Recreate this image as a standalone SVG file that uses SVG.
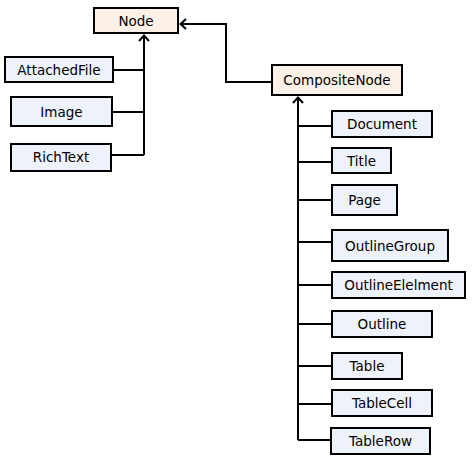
<svg xmlns="http://www.w3.org/2000/svg" width="472" height="466" viewBox="0 0 472 466">
<style>
.b{fill:#EEF2FA;stroke:#000;stroke-width:2}
.p{fill:#FDF1E7;stroke:#000;stroke-width:2}
text{font-family:"DejaVu Sans",sans-serif;font-size:13.5px;fill:#000;text-anchor:middle}
.c{fill:none;stroke:#000;stroke-width:2}
</style>
<defs>
<marker id="ar" markerWidth="12" markerHeight="12" refX="1" refY="6" orient="auto" markerUnits="userSpaceOnUse">
<path d="M7,1 L1.5,6 L7,11" fill="none" stroke="#000" stroke-width="2"/>
</marker>
</defs>
<g id="connectors">
<path class="c" d="M144,35 V155"/>
<path class="c" d="M144,35 V40" marker-start="url(#ar)"/>
<path class="c" d="M113,70 H144 M112,112 H144 M111,155 H144"/>
<path class="c" d="M180,24 H226 V82 H272" marker-start="url(#ar)"/>
<path class="c" d="M298,97 V440" marker-start="url(#ar)"/>
<path class="c" d="M298,126 H332 M298,162 H332 M298,200 H332 M298,242 H332 M298,285 H332 M298,324 H332 M298,366 H332 M298,404 H332 M298,440 H331"/>
</g>
<g id="node-Node"><rect class="p" x="94" y="8" width="84" height="25"/><text x="136" y="25.5">Node</text></g>
<g id="node-AttachedFile"><rect class="b" x="5" y="57" width="108" height="25"/><text x="59" y="74.5">AttachedFile</text></g>
<g id="node-Image"><rect class="b" x="11" y="97" width="101" height="29"/><text x="61.5" y="116.5">Image</text></g>
<g id="node-RichText"><rect class="b" x="11" y="144" width="100" height="27"/><text x="61" y="162">RichText</text></g>
<g id="node-CompositeNode"><rect class="p" x="272" y="65" width="130" height="30"/><text x="337" y="85">CompositeNode</text></g>
<g id="node-Document"><rect class="b" x="332" y="111" width="100" height="26"/><text x="382" y="129">Document</text></g>
<g id="node-Title"><rect class="b" x="332" y="148" width="59" height="25"/><text x="361.5" y="165.5">Title</text></g>
<g id="node-Page"><rect class="b" x="332" y="185" width="65" height="30"/><text x="364.5" y="205">Page</text></g>
<g id="node-OutlineGroup"><rect class="b" x="332" y="230" width="116" height="31"/><text x="390" y="250.5">OutlineGroup</text></g>
<g id="node-OutlineElelment"><rect class="b" x="332" y="272" width="133" height="26"/><text x="398.5" y="290">OutlineElelment</text></g>
<g id="node-Outline"><rect class="b" x="332" y="311" width="100" height="26"/><text x="382" y="329">Outline</text></g>
<g id="node-Table"><rect class="b" x="332" y="353" width="70" height="26"/><text x="367" y="371">Table</text></g>
<g id="node-TableCell"><rect class="b" x="332" y="390" width="100" height="26"/><text x="382" y="408">TableCell</text></g>
<g id="node-TableRow"><rect class="b" x="331" y="428" width="99" height="26"/><text x="380.5" y="446">TableRow</text></g>
</svg>
